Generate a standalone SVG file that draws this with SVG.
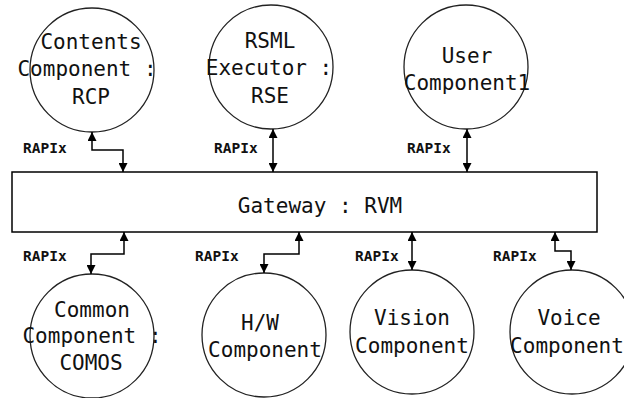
<svg xmlns="http://www.w3.org/2000/svg" width="624" height="398" viewBox="0 0 624 398">
<style>
.c{fill:#fff;stroke:#222;stroke-width:1.3}
.t{font-family:"DejaVu Sans Mono",monospace;font-size:21px;fill:#111;text-anchor:middle}
.l{font-family:"DejaVu Sans Mono",monospace;font-size:14.5px;font-weight:bold;fill:#111}
.a{fill:none;stroke:#000;stroke-width:1.5;marker-start:url(#h);marker-end:url(#h)}
</style>
<defs>
<marker id="h" viewBox="0 0 10 10" refX="10" refY="5" markerWidth="9" markerHeight="9" markerUnits="userSpaceOnUse" orient="auto-start-reverse">
<path d="M0,0 L10,5 L0,10 z" fill="#000"/>
</marker>
</defs>
<rect width="624" height="398" fill="#fff"/>
<g id="gateway"><rect x="12" y="172" width="585" height="60" fill="#fff" stroke="#000" stroke-width="1.5"/><text class="t" x="320" y="213">Gateway : RVM</text></g>
<g id="rcp"><circle class="c" cx="92" cy="70" r="62"/><text class="t" x="91" y="49">Contents</text><text class="t" x="87" y="76">Component :</text><text class="t" x="91" y="104">RCP</text></g>
<g id="rse"><circle class="c" cx="271" cy="67" r="62"/><text class="t" x="270" y="48">RSML</text><text class="t" x="269" y="75">Executor :</text><text class="t" x="270" y="103">RSE</text></g>
<g id="user"><circle class="c" cx="466" cy="67" r="62"/><text class="t" x="467" y="63">User</text><text class="t" x="467" y="90">Component1</text></g>
<g id="comos"><circle class="c" cx="92" cy="336" r="62"/><text class="t" x="92" y="317">Common</text><text class="t" x="92" y="343">Component :</text><text class="t" x="91" y="370">COMOS</text></g>
<g id="hw"><circle class="c" cx="264" cy="335" r="62"/><text class="t" x="260" y="330">H/W</text><text class="t" x="265" y="357">Component</text></g>
<g id="vision"><circle class="c" cx="412" cy="332" r="62"/><text class="t" x="412" y="325">Vision</text><text class="t" x="412" y="353">Component</text></g>
<g id="voice"><circle class="c" cx="572" cy="332" r="62"/><text class="t" x="569" y="325">Voice</text><text class="t" x="567" y="353">Component</text></g>
<g id="connectors">
<path class="a" d="M92,132 V150 H123 V172"/>
<path class="a" d="M273,129 V172"/>
<path class="a" d="M467,129 V172"/>
<path class="a" d="M124,232 V254 H91 V274"/>
<path class="a" d="M299,232 V254 H264 V273"/>
<path class="a" d="M412,232 V270"/>
<path class="a" d="M555,232 V251 H571 V270"/>
<text class="l" x="23" y="153">RAPIx</text>
<text class="l" x="214" y="153">RAPIx</text>
<text class="l" x="407" y="153">RAPIx</text>
<text class="l" x="23" y="261">RAPIx</text>
<text class="l" x="195" y="261">RAPIx</text>
<text class="l" x="355" y="261">RAPIx</text>
<text class="l" x="493" y="261">RAPIx</text>
</g>
</svg>
